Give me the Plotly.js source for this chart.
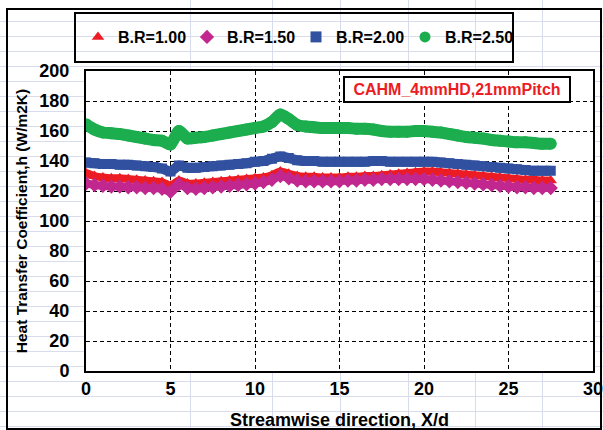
<!DOCTYPE html>
<html>
<head>
<meta charset="utf-8">
<script src="https://cdn.plot.ly/plotly-3.0.1.min.js"></script>
<style>
  html, body { margin: 0; padding: 0; background: #ffffff; }
  #wrap {
    position: relative; width: 603px; height: 430px; overflow: hidden;
    /* faint worksheet cell lines behind the chart */
    background-color: #ffffff;
    background-image:
      repeating-linear-gradient(to bottom, transparent 0px, transparent 14px, #d8dcec 14px, #d8dcec 15px),
      linear-gradient(to right, transparent 190px, #d8dcec 190px, #d8dcec 191px, transparent 191px,
                                transparent 272px, #d8dcec 272px, #d8dcec 273px, transparent 273px,
                                transparent 340px, #d8dcec 340px, #d8dcec 341px, transparent 341px,
                                transparent 408px, #d8dcec 408px, #d8dcec 409px, transparent 409px,
                                transparent 475px, #d8dcec 475px, #d8dcec 476px, transparent 476px,
                                transparent 542px, #d8dcec 542px, #d8dcec 543px, transparent 543px);
    background-position: 0 7px, 0 0;
  }
  #chart { position: absolute; left: 0; top: 0; width: 603px; height: 430px; }
</style>
</head>
<body>
<div id="wrap"><div id="chart"></div></div>
<script>
// Streamwise positions X/d
const xd = [0,0.5,1,1.5,2,2.5,3,3.5,4,4.5,5,5.5,6,6.5,7,7.5,8,8.5,9,9.5,
            10,10.5,11,11.5,12,12.5,13,13.5,14,14.5,15,15.5,16,16.5,17,17.5,18,18.5,19,19.5,
            20,20.5,21,21.5,22,22.5,23,23.5,24,24.5,25,25.5,26,26.5,27,27.5];

// Heat transfer coefficient h (W/m2K) for each blowing ratio
const br100 = [132,130,129,128.5,128.5,128,127.5,127,126.5,126,123.5,127,125,125,125.5,126,126.5,127,127.5,128,
               128.5,129,130.5,133,131.5,130,129.5,129.5,129,129,129,129.5,129.5,130,130,130.5,131,131.5,132,132.5,
               133,133,132.5,132,131.5,131,130.5,130,129.5,129,128.5,128,127.5,127.5,127,127];
const br150 = [125,124,123.5,123,123,122.5,122.5,122,122,121.5,119.5,124.5,122,121.5,122,122.5,123,123.5,124,124.5,
               125,126,127.5,130,128.5,127,126.5,126.5,126.5,126.5,126.5,127,127,127.5,127.5,128,128,128,128,128,
               128,127.5,127,126.5,126,125.5,125,124.5,124,123.5,123,122.5,122.5,122,122,122];
const br200 = [139,138.5,138,138,137.5,137.5,137,136.5,136,135,133,137,135.5,135.5,136,136.5,137,137.5,138,138.5,
               139.5,140,141.5,143,142,140.5,140,140,139.5,139.5,139.5,139.5,139.5,139.5,140,140,139.5,139.5,139.5,139.5,
               139.5,139.5,139,138.5,138,137.5,137,136.5,136,135.5,135,134.5,134,133.5,133.5,133.5];
const br250 = [164.5,161,159,158.5,158,157,156,155,154,153.5,151,160,155,155.5,156,157,158,159,160,161,
               162,163,166,171,168,164,163,162.5,162,162,162,162,161.5,161.5,161,160,159.5,159.5,159.5,160,
               160,159.5,159,158,157,156,155.5,155,154,153.5,153,152.5,152.5,152,151.5,151.5];

const seriesNames = ['B.R=1.00', 'B.R=1.50', 'B.R=2.00', 'B.R=2.50'];
const seriesData  = [br100, br150, br200, br250];
const colors  = ['#ec1c24', '#c1278f', '#31509f', '#1cae4e'];
const symbols = ['triangle-up', 'diamond', 'square', 'circle'];
const lineW   = [8, 8, 10, 12];
const markSz  = [11, 11, 10, 12];

const FONT = 'Liberation Sans, Arial, sans-serif';

const traces = [];
// data bands
seriesData.forEach((ys, i) => {
  traces.push({
    x: xd, y: ys, type: 'scatter', mode: 'lines+markers',
    line: { color: colors[i], width: lineW[i], shape: 'spline', smoothing: 0.6 },
    marker: { color: colors[i], symbol: symbols[i], size: markSz[i] },
    showlegend: false, legendgroup: seriesNames[i], hoverinfo: 'skip'
  });
});
// legend entries (marker only)
seriesData.forEach((ys, i) => {
  traces.push({
    x: [null], y: [null], type: 'scatter', mode: 'markers', name: seriesNames[i],
    marker: { color: colors[i], symbol: symbols[i], size: 11 },
    legendgroup: seriesNames[i], showlegend: true
  });
});

const L = 86, R = 593, T = 71, B = 371;
const px = v => (v - L) / (R - L);
const py = v => (B - v) / (B - T);

const layout = {
  width: 603, height: 430,
  margin: { l: L, r: 603 - R, t: T, b: 430 - B },
  paper_bgcolor: 'rgba(0,0,0,0)',
  plot_bgcolor: '#ffffff',
  font: { family: FONT, color: '#000' },
  showlegend: true,
  legend: {
    orientation: 'h', x: px(78), xanchor: 'left', y: py(37), yanchor: 'middle',
    bgcolor: 'rgba(0,0,0,0)', borderwidth: 0,
    font: { family: FONT, size: 16, weight: 'bold', color: '#000' },
    entrywidth: 64, entrywidthmode: 'pixels', itemwidth: 30, traceorder: 'normal'
  },
  xaxis: {
    range: [0, 30], dtick: 5, tick0: 0,
    showgrid: true, gridcolor: '#000', gridwidth: 1, griddash: '4px,3px',
    showline: true, linecolor: '#000', linewidth: 2, mirror: true,
    zeroline: false, ticks: '', ticklabeloverflow: 'allow',
    tickfont: { family: FONT, size: 18, weight: 'bold', color: '#000' },
    title: { text: 'Streamwise direction, X/d', font: { family: FONT, size: 18, weight: 'bold', color: '#000' }, standoff: 22 }
  },
  yaxis: {
    range: [0, 200], dtick: 20, tick0: 0,
    showgrid: true, gridcolor: '#000', gridwidth: 1, griddash: '4px,3px',
    showline: true, linecolor: '#000', linewidth: 2, mirror: true,
    zeroline: false, ticks: '', ticklabelstandoff: 11,
    tickfont: { family: FONT, size: 18, weight: 'bold', color: '#000' },
    title: { text: 'Heat Transfer Coefficient,h (W/m2K)', font: { family: FONT, size: 15.5, weight: 'bold', color: '#000' }, standoff: 8 }
  },
  shapes: [
    // chart frame
    { type: 'rect', xref: 'paper', yref: 'paper', x0: px(7), x1: px(601), y0: py(429), y1: py(9),
      line: { color: '#000', width: 2 }, fillcolor: 'rgba(0,0,0,0)', layer: 'below' },
    // legend frame
    { type: 'rect', xref: 'paper', yref: 'paper', x0: px(75), x1: px(513), y0: py(62), y1: py(13),
      line: { color: '#000', width: 2 }, fillcolor: 'rgba(0,0,0,0)' }
  ],
  annotations: [
    { xref: 'paper', yref: 'paper', x: px(457), y: py(89.5), xanchor: 'center', yanchor: 'middle',
      text: 'CAHM_4mmHD,21mmPitch', showarrow: false,
      font: { family: FONT, size: 16, weight: 'bold', color: '#ec1c24' },
      bgcolor: '#ffffff', bordercolor: '#000', borderwidth: 2, borderpad: 2, width: 220, height: 19 }
  ]
};

Plotly.newPlot('chart', traces, layout, { staticPlot: true, displayModeBar: false });
</script>
</body>
</html>
